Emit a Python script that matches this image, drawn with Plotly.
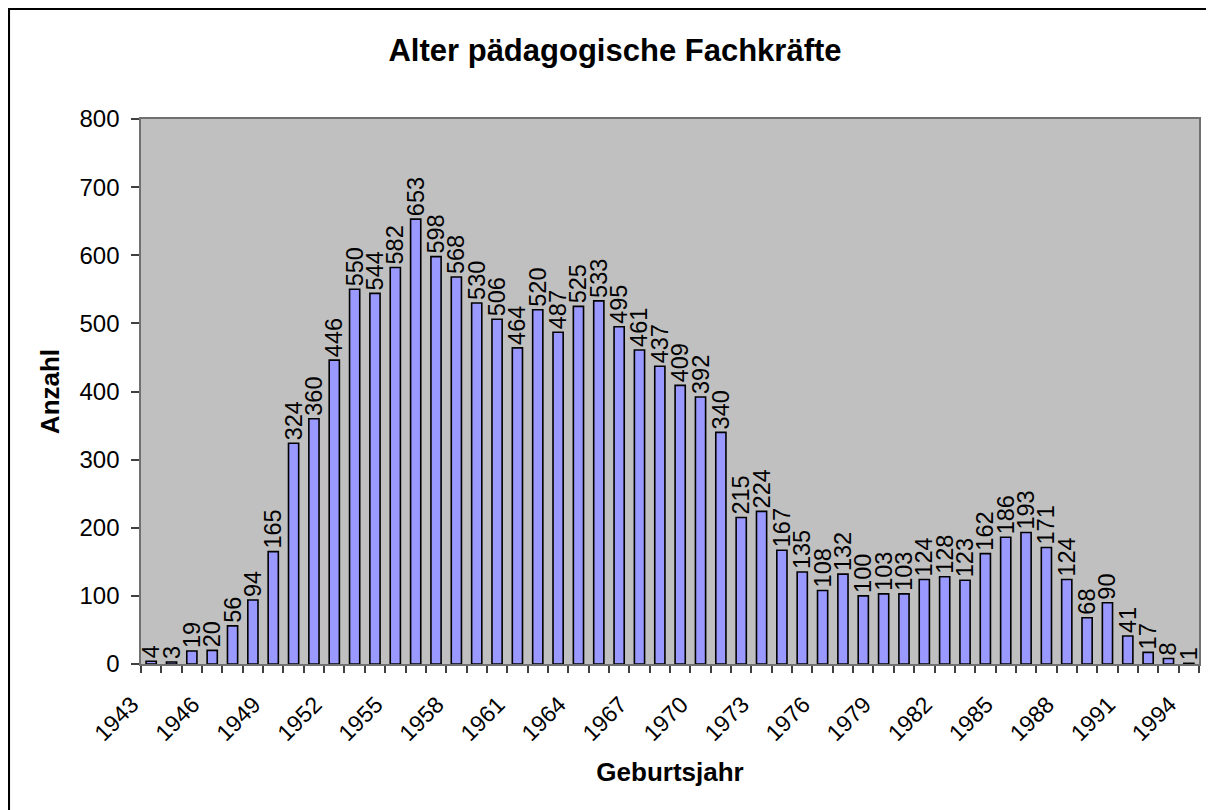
import plotly.graph_objects as go

years = list(range(1943, 1995))
anzahl = [4, 3, 19, 20, 56, 94, 165, 324, 360, 446, 550, 544, 582, 653, 598, 568,
          530, 506, 464, 520, 487, 525, 533, 495, 461, 437, 409, 392, 340, 215, 224,
          167, 135, 108, 132, 100, 103, 103, 124, 128, 123, 162, 186, 193, 171, 124,
          68, 90, 41, 17, 8, 1]
label_years = [y for y in years if (y - 1943) % 3 == 0]
y_ticks = [0, 100, 200, 300, 400, 500, 600, 700, 800]

NB = "\u00a0"
tick_vals = [y - 0.5 for y in years] + [years[-1] + 0.5]
tick_text = [(str(y) + NB * 2) if y in label_years else "" for y in years] + [""]
y_tick_text = [str(v) + NB for v in y_ticks]

FONT = "Arial, Liberation Sans, sans-serif"

fig = go.Figure()
fig.add_trace(go.Bar(
    x=years, y=anzahl,
    marker=dict(color="#9999FF", line=dict(color="black", width=1.6)),
    text=[str(v) for v in anzahl],
    textposition="outside",
    textangle=-90,
    constraintext="none",
    cliponaxis=False,
    textfont=dict(family=FONT, size=23.5, color="black"),
))

# the page body has an 8px margin, so the figure starts at (8, 8)
W, H = 1214, 810
L, R, T, B = 133, 23, 111, 154
pw, ph = W - L - R, H - T - B

def px_x(p):
    return (p - L) / pw

def px_y(p):
    return (H - B - p) / ph

x0, y0 = px_x(0.8), px_y(0.8)
x1, y1 = px_x(1240), px_y(840)
frame_path = f"M {x0},{y1} L {x0},{y0} L {x1},{y0}"

fig.update_layout(
    width=W, height=H,
    margin=dict(l=L, r=R, t=T, b=B),
    paper_bgcolor="white",
    plot_bgcolor="#C0C0C0",
    bargap=0.5,
    showlegend=False,
    font=dict(family=FONT, color="black"),
    title=dict(text="<b>Alter pädagogische Fachkräfte</b>",
               font=dict(family=FONT, size=31, color="black"),
               x=607 / W, xanchor="center", xref="container",
               y=1 - 42.5 / H, yanchor="middle", yref="container"),
    xaxis=dict(
        range=[years[0] - 0.5, years[-1] + 0.5],
        tickmode="array", tickvals=tick_vals, ticktext=tick_text,
        tickangle=-45,
        ticks="outside", ticklen=7, tickcolor="#404040", tickwidth=1.5,
        tickfont=dict(family=FONT, size=23, color="black"),
        showgrid=False, zeroline=False,
        showline=True, linecolor="#707070", linewidth=2, mirror=True,
        title=dict(text="<b>Geburtsjahr</b>", font=dict(family=FONT, size=26, color="black"),
                   standoff=18),
    ),
    yaxis=dict(
        range=[0, 800],
        tickmode="array", tickvals=y_ticks, ticktext=y_tick_text,
        ticks="outside", ticklen=8, tickcolor="#404040", tickwidth=1.5,
        tickfont=dict(family=FONT, size=24, color="black"),
        showgrid=False, zeroline=False,
        showline=True, linecolor="#707070", linewidth=2, mirror=True,
        title=dict(text="<b>Anzahl</b>", font=dict(family=FONT, size=26, color="black"),
                   standoff=12),
    ),
    shapes=[dict(type="path", xref="paper", yref="paper", path=frame_path,
                 line=dict(color="black", width=2.5), layer="above")],
)

fig.write_html("out.html")
